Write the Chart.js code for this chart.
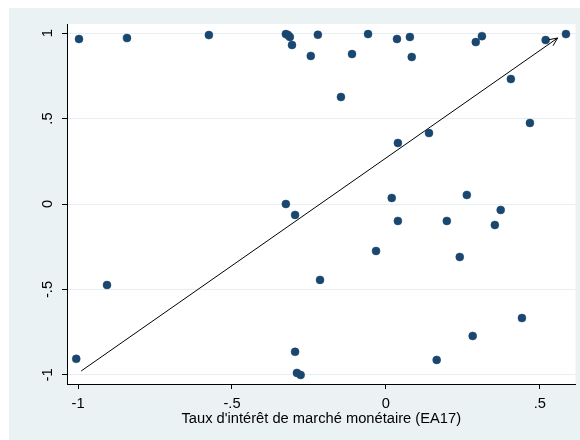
<!DOCTYPE html>
<html>
<head>
<meta charset="utf-8">
<script src="https://cdn.jsdelivr.net/npm/chart.js@4"></script>
<style>
  html, body { margin: 0; padding: 0; background: #fff; }
  #wrap { width: 580px; height: 440px; }
</style>
</head>
<body>
<div id="wrap"><canvas id="chart" width="580" height="440"></canvas></div>
<script>
// ─── data ─────────────────────────────────────────────────────────
const xVals = [-0.997, -0.841, -0.575, -0.325, -0.318, -0.312, -0.305, -0.244, -0.221, -0.110,
               -0.058, 0.036, 0.078, 0.084, 0.292, 0.312, 0.519, 0.585, -0.146, 0.406,
               0.468, 0.140, 0.039, -0.325, -0.295, 0.019, 0.263, 0.039, 0.198, 0.354,
               0.373, -0.032, 0.240, -0.214, -0.906, 0.442, 0.282, 0.165, -0.295, -0.289,
               -0.277, -1.006];
const yVals = [0.965, 0.971, 0.988, 0.994, 0.988, 0.977, 0.930, 0.866, 0.990, 0.877,
               0.994, 0.965, 0.977, 0.860, 0.947, 0.982, 0.959, 0.994, 0.626, 0.731,
               0.474, 0.415, 0.357, 0.000, -0.064, 0.035, 0.053, -0.099, -0.099, -0.123,
               -0.035, -0.275, -0.310, -0.444, -0.474, -0.667, -0.772, -0.912, -0.865, -0.988,
               -1.000, -0.906];

// arrow from start to end
const arrowX = [-0.990, 0.558];
const arrowY = [-0.977, 0.971];

const xTicks = [-1, -0.5, 0, 0.5];
const yTicks = [-1, -0.5, 0, 0.5, 1];
const xTitle = "Taux d'intérêt de marché monétaire (EA17)";

// Stata style labels: ".5", "-.5"
function stataNum(v) {
  return String(v).replace("0.", ".");
}

// ─── background: outer grey-blue frame, white plot region ────────
const bgPlugin = {
  id: "bg",
  beforeDraw(chart) {
    const ctx = chart.ctx;
    const a = chart.chartArea;
    ctx.save();
    ctx.fillStyle = "#fff";
    ctx.fillRect(0, 0, chart.width, chart.height);
    ctx.fillStyle = "#eaf2f3";
    ctx.fillRect(9, 8, chart.width - 9, chart.height - 8);
    ctx.fillStyle = "#fff";
    ctx.fillRect(a.left, a.top, a.right - a.left, a.bottom - a.top);
    ctx.restore();
  }
};

// ─── open arrowhead at the end of the arrow line ──────────────────
const arrowHead = {
  id: "arrowHead",
  afterDatasetsDraw(chart) {
    const pts = chart.getDatasetMeta(1).data;
    if (pts.length < 2) return;
    const p0 = pts[pts.length - 2], p1 = pts[pts.length - 1];
    const ang = Math.atan2(p1.y - p0.y, p1.x - p0.x);
    const len = 9, spread = 0.42;
    const ctx = chart.ctx;
    ctx.save();
    ctx.strokeStyle = "#000";
    ctx.lineWidth = 1;
    ctx.beginPath();
    ctx.moveTo(p1.x - len * Math.cos(ang - spread), p1.y - len * Math.sin(ang - spread));
    ctx.lineTo(p1.x, p1.y);
    ctx.lineTo(p1.x - len * Math.cos(ang + spread), p1.y - len * Math.sin(ang + spread));
    ctx.stroke();
    ctx.restore();
  }
};

const tickFont = { family: "'Liberation Sans', Arial, sans-serif", size: 14.7 };

new Chart(document.getElementById("chart"), {
  type: "scatter",
  data: {
    datasets: [
      {
        data: xVals.map((x, i) => ({ x, y: yVals[i] })),
        backgroundColor: "#1a476f",
        borderColor: "#1a476f",
        borderWidth: 0.5,
        pointRadius: 4
      },
      {
        data: arrowX.map((x, i) => ({ x, y: arrowY[i] })),
        showLine: true,
        borderColor: "#000",
        borderWidth: 1,
        pointRadius: 0
      }
    ]
  },
  options: {
    responsive: false,
    animation: false,
    layout: { padding: { top: 24, right: 4, left: 0, bottom: 0 } },
    plugins: { legend: { display: false }, tooltip: { enabled: false } },
    scales: {
      x: {
        min: -1.036,
        max: 0.616,
        afterBuildTicks: s => { s.ticks = xTicks.map(v => ({ value: v })); },
        afterFit: s => { s.height = 56; },
        ticks: { color: "#000", font: tickFont, padding: 6, maxRotation: 0, callback: v => stataNum(v) },
        grid: { drawOnChartArea: false, tickLength: 5, tickColor: "#000" },
        border: { color: "#000", width: 1 },
        title: { display: true, text: xTitle, color: "#000", font: tickFont, padding: { top: 0, bottom: 12 } }
      },
      y: {
        min: -1.053,
        max: 1.053,
        afterBuildTicks: s => { s.ticks = yTicks.map(v => ({ value: v })); },
        afterFit: s => { s.width = 67; },
        ticks: {
          color: "#000", font: tickFont, padding: 5,
          minRotation: 90, maxRotation: 90, crossAlign: "center",
          callback: v => stataNum(v)
        },
        grid: { color: "#e6eef0", lineWidth: 1, tickLength: 5, tickColor: "#000" },
        border: { color: "#000", width: 1 }
      }
    }
  },
  plugins: [bgPlugin, arrowHead]
});
</script>
</body>
</html>
